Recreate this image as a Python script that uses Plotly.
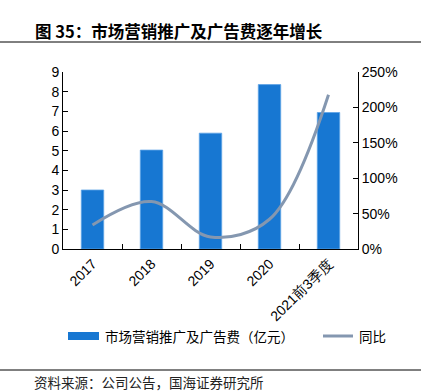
import plotly.graph_objects as go

categories = ["2017", "2018", "2019", "2020", "2021前3季度"]
expense = [3.0, 5.03, 5.89, 8.36, 6.94]          # 亿元
growth = [34, 67, 17, 42, 218]                   # %
bar_name = "市场营销推广及广告费（亿元）"
line_name = "同比"

W, H = 421, 392
L, R, T, B = 63, 63, 72, 143
PW, PH = W - L - R, H - T - B

def px_x(x):
    return (x - L) / PW

def px_y(y):
    return 1 - (y - T) / PH

BAR_COLOR = "#1777D2"
LINE_COLOR = "#8497B0"

fig = go.Figure()
fig.add_trace(go.Bar(
    x=categories, y=expense, name=bar_name,
    marker=dict(color=BAR_COLOR, line=dict(color="#5EA3E6", width=0.8)),
    width=0.38, yaxis="y",
))
fig.add_trace(go.Scatter(
    x=categories, y=growth, name=line_name, mode="lines",
    line=dict(color=LINE_COLOR, width=3, shape="spline", smoothing=1.0),
    yaxis="y2",
))

axis_font = dict(family="Liberation Sans, Arial", size=14, color="#000")
fig.update_layout(
    width=W, height=H,
    margin=dict(l=L, r=R, t=T, b=B, autoexpand=False),
    paper_bgcolor="white", plot_bgcolor="white",
    showlegend=False,
    xaxis=dict(type="category", tickangle=-45, tickfont=axis_font, automargin=False,
               showline=True, linecolor="#000", linewidth=1.3,
               ticks="inside", ticklen=5, tickson="boundaries", tickcolor="#000",
               showgrid=False),
    yaxis=dict(range=[0, 9], dtick=1, tickfont=axis_font, automargin=False,
               showline=True, linecolor="#000", linewidth=1,
               ticks="inside", ticklen=5, tickcolor="#000",
               showgrid=False, zeroline=False),
    yaxis2=dict(range=[0, 250], dtick=50, ticksuffix="%", overlaying="y", side="right",
                tickfont=axis_font, automargin=False,
                showline=True, linecolor="#000", linewidth=1,
                ticks="inside", ticklen=5, tickcolor="#000",
                showgrid=False, zeroline=False),
)

cjk = "Noto Sans CJK SC"
fig.add_annotation(text="<b>图 35：市场营销推广及广告费逐年增长</b>",
                   xref="paper", yref="paper", x=px_x(33), y=px_y(31),
                   xanchor="left", yanchor="middle", showarrow=False,
                   font=dict(family=cjk, size=16.5, color="#000"))
fig.add_annotation(text="资料来源：公司公告，国海证券研究所",
                   xref="paper", yref="paper", x=px_x(32), y=px_y(382),
                   xanchor="left", yanchor="middle", showarrow=False,
                   font=dict(family=cjk, size=13.5, color="#222"))

for yp in (42, 370):
    fig.add_shape(type="line", xref="paper", yref="paper",
                  x0=px_x(0), x1=px_x(W), y0=px_y(yp), y1=px_y(yp),
                  line=dict(color="#000", width=1))

# legend (drawn manually to match the reference layout)
ly = 336
fig.add_shape(type="rect", xref="paper", yref="paper",
              x0=px_x(68), x1=px_x(99), y0=px_y(ly - 4), y1=px_y(ly + 4),
              fillcolor=BAR_COLOR, line=dict(width=0))
fig.add_annotation(text=bar_name, xref="paper", yref="paper",
                   x=px_x(103), y=px_y(ly), xanchor="left", yanchor="middle",
                   showarrow=False, font=dict(family=cjk, size=13.5, color="#000"))
fig.add_shape(type="line", xref="paper", yref="paper",
              x0=px_x(323), x1=px_x(353), y0=px_y(ly), y1=px_y(ly),
              line=dict(color=LINE_COLOR, width=3))
fig.add_annotation(text=line_name, xref="paper", yref="paper",
                   x=px_x(357), y=px_y(ly), xanchor="left", yanchor="middle",
                   showarrow=False, font=dict(family=cjk, size=13.5, color="#000"))

fig.write_html("out.html", config={"displayModeBar": False},
               post_script="document.body.style.margin='0';document.body.style.padding='0';")
